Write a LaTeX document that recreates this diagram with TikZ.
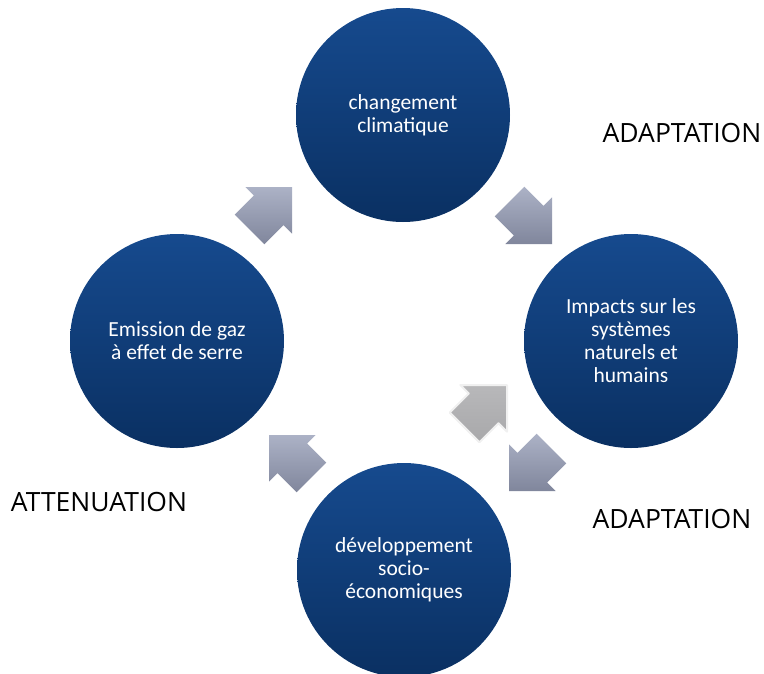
\documentclass[tikz,border=0pt]{standalone}
\usepackage{fontspec}
\setmainfont{Carlito}
\newfontfamily\labelfont{Open Sans}
\usetikzlibrary{shapes.geometric, positioning}
\definecolor{circletop}{RGB}{22,74,142}
\definecolor{circlebot}{RGB}{10,48,98}
\definecolor{arrowtop}{RGB}{172,178,198}
\definecolor{arrowbot}{RGB}{128,134,156}
\definecolor{greytop}{RGB}{184,184,186}
\definecolor{greybot}{RGB}{168,168,170}

% block arrow: #2 = tip coordinate, #3 = direction angle
\newcommand{\cyclearrow}[3][]{%
    \path[arrowfill, #1] (#2) -- ++(#3+135:46.67pt) -- ++(#3-90:12pt) -- ++(#3+180:27pt)
        -- ++(#3-90:42pt) -- ++(#3:27pt) -- ++(#3-90:12pt) -- cycle;}

\begin{document}
\begin{tikzpicture}[
    x=1pt, y=-1pt,
    bubble/.style={circle, minimum size=214pt, inner sep=0pt, top color=circletop, bottom color=circlebot, text=white, font=\fontsize{21.5}{23}\selectfont, align=center},
    arrowfill/.style={top color=arrowtop, bottom color=arrowbot},
    lightarrow/.style={top color=greytop, bottom color=greybot, draw=gray!12, line width=2pt, line join=round},
    phase/.style={font=\labelfont\fontsize{26.5}{30}\selectfont}
]
    \useasboundingbox (0,0) rectangle (764,673);

    % Main circles
    \node[bubble] (clim) at (403,115) {changement\\climatique};
    \node[bubble] (impacts) at (631,341) {Impacts sur les\\systèmes\\naturels et\\humains};
    \node[bubble] (devel) at (404,570) {développement\\socio-\\économiques};
    \node[bubble] (emission) at (177,341) {Emission de gaz\\à effet de serre};

    % Arrow tips
    \coordinate (emis2clim) at (292,187);
    \coordinate (clim2imp) at (552,244);
    \coordinate (imp2devel) at (509,491);
    \coordinate (devel2imp) at (507,385);
    \coordinate (devel2emis) at (269,435);

    % Cycle arrows
    \cyclearrow{emis2clim}{45}
    \cyclearrow{clim2imp}{-45}
    \cyclearrow{imp2devel}{-135}
    \cyclearrow[lightarrow]{devel2imp}{45}
    \cyclearrow{devel2emis}{135}

    % Labels
    \node[phase] (adapt1) at (682,133) {ADAPTATION};
    \node[phase] (adapt2) at (672,519) {ADAPTATION};
    \node[phase] (atten) at (99,502) {ATTENUATION};
\end{tikzpicture}
\end{document}
